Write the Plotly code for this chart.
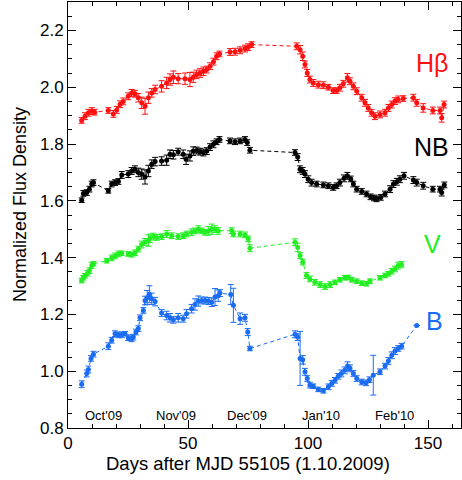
import plotly.graph_objects as go

# ---------------- data ----------------
hb_x = [5.7, 7.1, 8.5, 9.9, 11.1, 16.8, 18.9, 20.3, 21.7, 23.0, 25.1, 26.5, 27.9, 29.3, 30.7, 32.1, 33.5, 34.9, 36.3, 39.0,
        41.1, 42.5, 43.9, 45.9, 48.75, 50.8, 52.2, 53.6, 55.0, 56.4, 57.8, 59.2, 60.6, 61.9, 63.1, 67.5, 69.6, 71.7, 73.75, 75.1,
        76.5, 95.3, 96.7, 97.8, 98.75, 99.7, 100.8, 102.2, 104.3, 106.4, 108.5, 110.5, 111.9, 113.3, 114.7, 116.4, 117.5, 118.9, 120.3, 122.4,
        123.75, 125.1, 126.5, 127.9, 130.0, 132.1, 133.5, 134.9, 136.25, 137.6, 139.7, 143.9, 145.3, 148.0, 152.0, 155.0, 155.7, 156.7]
hb_y = [1.883, 1.898, 1.910, 1.916, 1.912, 1.918, 1.906, 1.920, 1.940, 1.950, 1.968, 1.980, 1.977, 1.963, 1.945, 1.933, 1.963, 1.980, 1.992, 2.003,
        2.015, 2.027, 2.035, 2.030, 2.030, 2.027, 2.035, 2.045, 2.050, 2.056, 2.062, 2.074, 2.090, 2.109, 2.117, 2.124, 2.125, 2.130, 2.136, 2.141,
        2.150, 2.144, 2.132, 2.109, 2.080, 2.050, 2.027, 2.015, 2.009, 2.007, 2.000, 1.988, 1.988, 1.998, 2.012, 2.033, 2.021, 2.003, 1.986, 1.963,
        1.945, 1.927, 1.910, 1.898, 1.904, 1.910, 1.927, 1.939, 1.951, 1.957, 1.960, 1.963, 1.945, 1.927, 1.918, 1.918, 1.892, 1.939]
hb_e = [0.010, 0.012, 0.012, 0.012, 0.010, 0.010, 0.012, 0.012, 0.012, 0.012, 0.012, 0.012, 0.012, 0.015, 0.020, 0.028, 0.020, 0.015, 0.015, 0.020,
        0.020, 0.020, 0.022, 0.018, 0.020, 0.025, 0.018, 0.015, 0.015, 0.015, 0.012, 0.012, 0.012, 0.012, 0.010, 0.012, 0.012, 0.012, 0.012, 0.012,
        0.010, 0.012, 0.015, 0.015, 0.012, 0.012, 0.012, 0.012, 0.012, 0.012, 0.010, 0.010, 0.010, 0.012, 0.012, 0.015, 0.012, 0.012, 0.012, 0.012,
        0.012, 0.012, 0.012, 0.012, 0.012, 0.012, 0.012, 0.012, 0.012, 0.012, 0.010, 0.012, 0.012, 0.015, 0.012, 0.012, 0.015, 0.012]

nb_x = [5.7, 6.4, 7.8, 8.9, 9.9, 10.6, 16.8, 18.2, 19.6, 21.0, 22.4, 25.1, 26.5, 27.9, 29.3, 30.7, 32.1, 33.5, 34.9, 36.3,
        39.0, 41.1, 42.5, 43.9, 45.9, 48.0, 49.2, 50.8, 52.2, 53.6, 55.0, 56.4, 57.8, 59.2, 60.6, 61.9, 63.1, 67.5, 69.6, 71.7,
        73.75, 74.7, 75.8, 94.6, 95.7, 96.7, 97.8, 98.75, 100.1, 101.5, 103.6, 106.4, 108.5, 110.5, 111.9, 113.3, 115.0, 116.4, 117.8, 118.9,
        120.3, 122.4, 124.4, 126.1, 127.5, 128.6, 130.3, 132.1, 134.2, 135.6, 137.0, 138.3, 140.0, 143.9, 145.3, 148.0, 152.0, 155.0, 155.7, 156.8]
nb_y = [1.602, 1.626, 1.629, 1.641, 1.659, 1.664, 1.635, 1.659, 1.664, 1.668, 1.691, 1.694, 1.705, 1.711, 1.700, 1.694, 1.684, 1.705, 1.729, 1.738,
        1.740, 1.743, 1.764, 1.762, 1.773, 1.764, 1.746, 1.758, 1.775, 1.777, 1.773, 1.770, 1.775, 1.789, 1.799, 1.808, 1.816, 1.811, 1.808, 1.811,
        1.816, 1.805, 1.778, 1.770, 1.754, 1.711, 1.705, 1.694, 1.676, 1.664, 1.659, 1.656, 1.653, 1.647, 1.653, 1.664, 1.679, 1.688, 1.677, 1.659,
        1.641, 1.633, 1.624, 1.614, 1.610, 1.607, 1.612, 1.624, 1.641, 1.659, 1.667, 1.676, 1.688, 1.673, 1.664, 1.653, 1.641, 1.641, 1.629, 1.656]
nb_e = [0.008, 0.010, 0.010, 0.010, 0.010, 0.010, 0.008, 0.010, 0.010, 0.010, 0.012, 0.012, 0.012, 0.012, 0.015, 0.018, 0.025, 0.020, 0.015, 0.015,
        0.015, 0.018, 0.015, 0.015, 0.012, 0.015, 0.018, 0.018, 0.015, 0.012, 0.012, 0.012, 0.012, 0.012, 0.012, 0.010, 0.010, 0.010, 0.010, 0.010,
        0.010, 0.010, 0.010, 0.010, 0.012, 0.012, 0.012, 0.012, 0.012, 0.012, 0.010, 0.010, 0.010, 0.010, 0.010, 0.012, 0.012, 0.012, 0.010, 0.010,
        0.010, 0.010, 0.010, 0.010, 0.010, 0.010, 0.010, 0.010, 0.012, 0.012, 0.012, 0.012, 0.012, 0.012, 0.012, 0.012, 0.010, 0.010, 0.012, 0.010]

v_x = [5.7, 6.4, 7.1, 8.1, 8.9, 9.9, 10.6, 16.1, 18.2, 19.6, 21.0, 22.4, 25.1, 26.5, 27.9, 29.3, 30.7, 32.1, 33.5, 34.2,
       35.6, 37.0, 39.0, 41.1, 43.2, 45.9, 48.0, 49.4, 51.5, 52.9, 54.3, 55.7, 57.1, 58.5, 59.9, 61.2, 62.6, 68.2, 68.9, 71.7,
       73.75, 75.1, 75.8, 94.6, 95.7, 96.7, 97.8, 99.4, 100.8, 102.9, 105.0, 107.1, 109.2, 111.25, 113.3, 115.4, 116.8, 118.2, 120.3, 122.4,
       124.4, 125.8, 130.0, 132.1, 133.5, 134.9, 136.25, 137.6, 139.0]
v_y = [1.319, 1.329, 1.336, 1.345, 1.354, 1.372, 1.378, 1.389, 1.399, 1.406, 1.413, 1.415, 1.413, 1.410, 1.417, 1.430, 1.446, 1.455, 1.460, 1.468,
       1.474, 1.471, 1.474, 1.483, 1.477, 1.474, 1.477, 1.483, 1.489, 1.494, 1.500, 1.494, 1.489, 1.494, 1.500, 1.500, 1.494, 1.495, 1.483, 1.483,
       1.480, 1.466, 1.433, 1.454, 1.436, 1.407, 1.384, 1.337, 1.325, 1.313, 1.305, 1.298, 1.305, 1.313, 1.322, 1.329, 1.330, 1.322, 1.317, 1.310,
       1.308, 1.317, 1.329, 1.337, 1.343, 1.352, 1.360, 1.372, 1.376]
v_e = [0.008, 0.008, 0.008, 0.010, 0.010, 0.010, 0.008, 0.008, 0.010, 0.010, 0.010, 0.008, 0.008, 0.008, 0.010, 0.010, 0.012, 0.012, 0.020, 0.015,
       0.012, 0.010, 0.010, 0.012, 0.010, 0.010, 0.010, 0.010, 0.012, 0.010, 0.012, 0.010, 0.010, 0.015, 0.018, 0.012, 0.012, 0.010, 0.010, 0.010,
       0.010, 0.010, 0.012, 0.012, 0.015, 0.010, 0.010, 0.010, 0.010, 0.010, 0.010, 0.010, 0.010, 0.008, 0.008, 0.008, 0.008, 0.008, 0.008, 0.008,
       0.008, 0.008, 0.008, 0.008, 0.008, 0.010, 0.010, 0.012, 0.010]

b_x = [5.7, 7.8, 8.5, 9.6, 10.6, 16.8, 18.2, 19.6, 21.0, 22.4, 23.75, 25.1, 26.5, 27.2, 28.3, 29.3, 30.0, 31.4, 32.1, 33.0,
       33.9, 34.9, 36.3, 39.0, 41.1, 42.5, 43.9, 45.9, 48.0, 49.4, 51.5, 52.9, 54.3, 55.7, 57.1, 58.5, 59.9, 61.25, 62.6, 63.3,
       67.8, 68.9, 71.7, 73.75, 74.9, 75.8, 94.6, 95.7, 96.7, 97.8, 98.75, 99.7, 100.8, 102.2, 104.3, 106.4, 108.5, 109.9, 111.25, 112.6,
       113.9, 115.3, 116.5, 117.5, 118.9, 120.3, 122.4, 124.2, 125.6, 127.2, 130.0, 132.1, 133.5, 134.9, 136.25, 137.6, 139.0, 145.3]
b_y = [0.954, 0.992, 1.006, 1.045, 1.060, 1.088, 1.109, 1.132, 1.128, 1.128, 1.132, 1.118, 1.114, 1.120, 1.138, 1.150, 1.188, 1.214, 1.249, 1.259,
       1.271, 1.255, 1.245, 1.205, 1.196, 1.188, 1.181, 1.188, 1.185, 1.202, 1.220, 1.235, 1.247, 1.249, 1.249, 1.247, 1.243, 1.261, 1.266, 1.275,
       1.270, 1.232, 1.185, 1.188, 1.138, 1.080, 1.130, 1.120, 1.045, 1.040, 0.998, 0.974, 0.951, 0.947, 0.936, 0.931, 0.945, 0.957, 0.968, 0.982,
       0.992, 1.003, 1.018, 1.010, 0.992, 0.974, 0.962, 0.959, 0.970, 0.986, 0.998, 1.018, 1.036, 1.056, 1.071, 1.080, 1.088, 1.161]
b_e = [0.012, 0.012, 0.012, 0.010, 0.010, 0.012, 0.010, 0.010, 0.010, 0.010, 0.008, 0.010, 0.010, 0.010, 0.010, 0.010, 0.010, 0.010, 0.015, 0.025,
       0.030, 0.020, 0.015, 0.012, 0.015, 0.015, 0.012, 0.015, 0.012, 0.015, 0.015, 0.020, 0.018, 0.012, 0.012, 0.012, 0.015, 0.030, 0.020, 0.012,
       0.035, 0.060, 0.020, 0.012, 0.012, 0.008, 0.012, 0.012, 0.095, 0.015, 0.012, 0.010, 0.010, 0.008, 0.008, 0.008, 0.010, 0.010, 0.010, 0.010,
       0.012, 0.012, 0.015, 0.012, 0.010, 0.010, 0.010, 0.010, 0.010, 0.070, 0.010, 0.010, 0.012, 0.012, 0.012, 0.010, 0.010, 0.0]

series_names = ["Hβ", "NB", "V", "B"]
series_colors = ["#ff0f0f", "#000000", "#22ee22", "#1a6cf2"]
series_symbols = ["circle", "circle", "circle", "circle"]

month_labels = ["Oct'09", "Nov'09", "Dec'09", "Jan'10", "Feb'10"]
month_pos = [14.6, 45.0, 74.6, 105.4, 136.2]

FONT = "Liberation Sans, Arial, sans-serif"

fig = go.Figure()
for name, xs, ys, es, col, sym in zip(series_names,
                                      [hb_x, nb_x, v_x, b_x],
                                      [hb_y, nb_y, v_y, b_y],
                                      [hb_e, nb_e, v_e, b_e],
                                      series_colors, series_symbols):
    fig.add_trace(go.Scatter(
        x=xs, y=ys, name=name, mode="lines+markers",
        line=dict(color=col, width=1, dash="4px,3px"),
        marker=dict(color=col, size=5, symbol=sym, line=dict(width=0)),
        error_y=dict(type="data", array=es, visible=True, color=col, thickness=1, width=3),
        showlegend=False,
    ))

# series labels
label_pos = [(151.5, 2.085), (151.5, 1.79), (152.0, 1.447), (152.5, 1.178)]
for name, col, (lx, ly) in zip(series_names, series_colors, label_pos):
    fig.add_annotation(x=lx, y=ly, xref="x", yref="y", text=name, showarrow=False,
                       font=dict(family=FONT, size=25, color=col), xanchor="center", yanchor="middle")

for lab, pos in zip(month_labels, month_pos):
    fig.add_annotation(x=pos, y=0.843, xref="x", yref="y", text=lab, showarrow=False,
                       font=dict(family=FONT, size=13, color="black"), xanchor="center", yanchor="middle")

# axis titles (pixel positions converted below)
fig.add_annotation(x=248, y=480 - 463, xref="paper", yref="paper", text="Days after MJD 55105 (1.10.2009)",
                   showarrow=False, font=dict(family=FONT, size=18.5, color="black"),
                   xanchor="center", yanchor="middle")
fig.add_annotation(x=20, y=480 - 205, xref="paper", yref="paper", text="Normalized Flux Density",
                   textangle=-90, showarrow=False, font=dict(family=FONT, size=18, color="black"),
                   xanchor="center", yanchor="middle")

W, H = 462, 480
L, R, T, B = 68, 1, 2, 52
for ann in fig.layout.annotations:
    if ann.xref == "paper":
        ann.x = (ann.x - L) / (W - L - R)
        ann.y = (ann.y - B) / (H - T - B)

fig.update_layout(
    width=W, height=H,
    margin=dict(l=L, r=R, t=T, b=B, autoexpand=False),
    paper_bgcolor="white", plot_bgcolor="white",
    font=dict(family=FONT, size=17, color="black"),
    xaxis=dict(range=[0, 163.75], showline=True, linecolor="black", linewidth=1, mirror="ticks",
               ticks="inside", ticklen=8, tickwidth=1, tickcolor="black", dtick=50, tick0=0,
               showgrid=False, zeroline=False, automargin=False,
               minor=dict(dtick=10, ticks="inside", ticklen=4, tickcolor="black", showgrid=False),
               tickfont=dict(family=FONT, size=17)),
    yaxis=dict(range=[0.8, 2.3], showline=True, linecolor="black", linewidth=1, mirror="ticks",
               ticks="inside", ticklen=8, tickwidth=1, tickcolor="black", dtick=0.2, tick0=0.8,
               tickformat=".1f", showgrid=False, zeroline=False, automargin=False,
               minor=dict(dtick=0.05, ticks="inside", ticklen=4, tickcolor="black", showgrid=False),
               tickfont=dict(family=FONT, size=17)),
)

fig.write_html("out.html", config={"displayModeBar": False},
               post_script="document.body.style.margin='0';document.body.style.padding='0';")
